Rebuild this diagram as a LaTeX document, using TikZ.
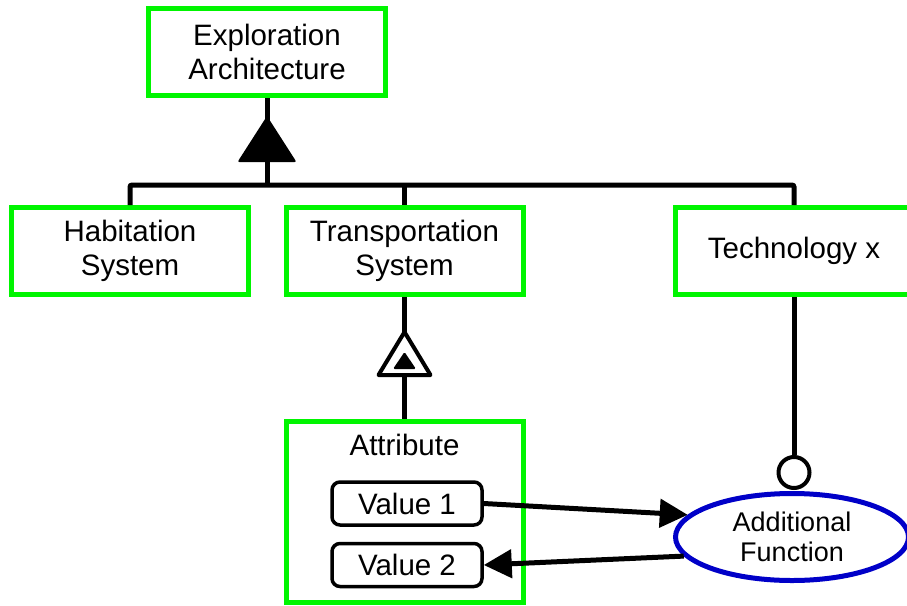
\documentclass[tikz,border=0pt]{standalone}
\usepackage{fontspec}
\setmainfont{Liberation Sans}
\usetikzlibrary{calc}
\usetikzlibrary{arrows.meta}
\usetikzlibrary{shapes.geometric}
\definecolor{sysgreen}{RGB}{0,245,0}
\definecolor{fnblue}{RGB}{0,0,200}
\tikzset{
 sysbox/.style={draw=sysgreen, line width=5pt, fill=white, minimum width=237pt, minimum height=87pt, inner sep=0pt, align=center, font=\fontsize{29.5}{34}\selectfont},
 valbox/.style={draw, line width=3.5pt, rounded corners=8pt, minimum width=150pt, minimum height=43pt, inner sep=0pt, font=\fontsize{29.5}{34}\selectfont},
 link/.style={black, line width=5pt},
 msg/.style={link, -{Triangle[length=28pt,width=28pt]}}
}

\begin{document}
\begin{tikzpicture}[x=1pt,y=-1pt]
\useasboundingbox (0,0) rectangle (907,605);
\node[sysbox] (expl) at (267,52) {Exploration\\Architecture};
\foreach \nm/\x/\txt in {hab/130/{Habitation\\System}, trans/404.5/{Transportation\\System}, tech/794/{Technology x}}
 \node[sysbox] (\nm) at (\x,251) {\txt};
\node[sysbox, minimum height=181pt] (attr) at (404.5,512) {};
\node[font=\fontsize{29.5}{34}\selectfont] (attrlbl) at (404.5,445) {Attribute};
\node[valbox] (v1) at (407,503.5) {Value 1};
\node[valbox] (v2) at (407,565) {Value 2};
\node[ellipse, draw=fnblue, line width=5pt, minimum width=233pt, minimum height=87pt, inner sep=0pt, align=center, font=\fontsize{27}{30}\selectfont] (fn) at (792,537) {Additional\\Function};
\node[circle, draw, line width=4pt, fill=white, minimum size=31pt, inner sep=0pt, anchor=south] (circ) at ($(fn.north)+(2,-1)$) {};
\coordinate (bar) at (267,185);
\draw[link] (expl.south) -- (bar);
\draw[link, rounded corners=2pt] (hab.north) |- (bar) -| (tech.north);
\draw[link] (trans.north) -- (trans.north |- bar);
\fill[rounded corners=2pt] ($(expl.south)+(0,18)$) -- ++(29.5,46) -- ++(-59,0) -- cycle;
\draw[link] (trans.south) -- (attr.north);
\draw[black, line width=4pt, fill=white, line join=round] ($(trans.south)+(0,35)$) -- ++(26,43) -- ++(-52,0) -- cycle;
\fill[rounded corners=1.5pt] ($(trans.south)+(0,55)$) -- ++(11.5,17) -- ++(-23,0) -- cycle;
\draw[link] (tech.south) -- (circ.north);
\draw[msg] (v1.east) -- (fn.168);
\draw[msg] (fn.190) -- (v2.east);
\end{tikzpicture}
\end{document}
